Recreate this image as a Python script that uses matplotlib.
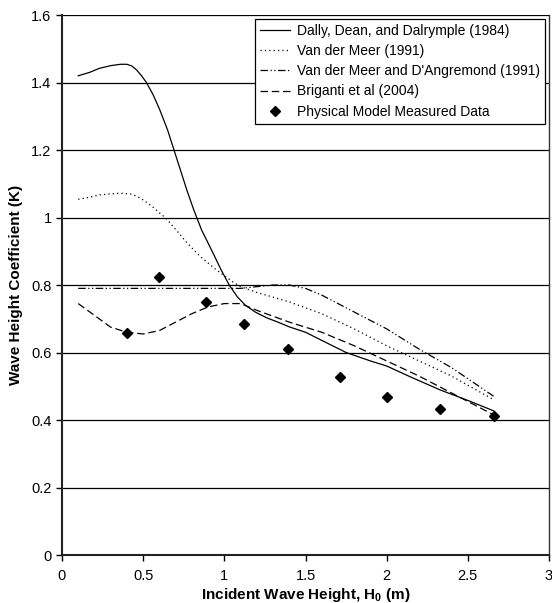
import matplotlib
matplotlib.use("Agg")
import matplotlib.pyplot as plt

plt.rcParams['font.family'] = ['Liberation Sans', 'DejaVu Sans']

# Measured data
meas_x = [0.40, 0.60, 0.89, 1.12, 1.39, 1.71, 2.00, 2.33, 2.66]
meas_k = [0.658, 0.824, 0.750, 0.685, 0.610, 0.528, 0.468, 0.433, 0.412]

# Dally, Dean, and Dalrymple (1984)
dally_x = [0.1, 0.17, 0.23, 0.3, 0.36, 0.4, 0.43, 0.46, 0.49, 0.52, 0.56, 0.6, 0.65, 0.69, 0.73, 0.77, 0.81,
           0.86, 0.93, 0.98, 1.03, 1.08, 1.13, 1.19, 1.26, 1.33, 1.4, 1.5, 1.6, 1.75, 1.9, 2.0, 2.15, 2.33, 2.5, 2.66]
dally_k = [1.42, 1.43, 1.442, 1.45, 1.454, 1.454, 1.449, 1.437, 1.42, 1.40, 1.365, 1.322, 1.26, 1.2, 1.14, 1.08, 1.025,
           0.963, 0.895, 0.845, 0.80, 0.765, 0.74, 0.72, 0.703, 0.69, 0.676, 0.66, 0.636, 0.60, 0.575, 0.56, 0.527, 0.489, 0.458, 0.427]

# Van der Meer (1991)
vdm_x = [0.1, 0.17, 0.23, 0.3, 0.36, 0.42, 0.46, 0.5, 0.55, 0.6, 0.64, 0.7, 0.77, 0.85, 0.95, 1.05, 1.1, 1.2,
         1.4, 1.6, 1.8, 2.0, 2.2, 2.4, 2.66]
vdm_k = [1.054, 1.06, 1.067, 1.07, 1.072, 1.070, 1.063, 1.052, 1.035, 1.014, 0.998, 0.965, 0.925, 0.885, 0.845, 0.81,
         0.795, 0.778, 0.75, 0.715, 0.67, 0.62, 0.575, 0.53, 0.46]

# Van der Meer and D'Angremond (1991)
vdma_x = [0.1, 0.5, 1.0, 1.1, 1.2, 1.3, 1.4, 1.5, 1.6, 1.8, 2.0, 2.2, 2.4, 2.66]
vdma_k = [0.79, 0.79, 0.79, 0.79, 0.795, 0.80, 0.80, 0.79, 0.77, 0.72, 0.67, 0.61, 0.555, 0.47]

# Briganti et al (2004)
brig_x = [0.1, 0.2, 0.3, 0.4, 0.5, 0.6, 0.7, 0.8, 0.9, 1.0, 1.1, 1.2, 1.4, 1.6, 1.8, 2.0, 2.2, 2.4, 2.66]
brig_k = [0.745, 0.71, 0.675, 0.66, 0.655, 0.665, 0.69, 0.715, 0.735, 0.745, 0.745, 0.725, 0.69, 0.66, 0.62, 0.575, 0.53, 0.48, 0.415]

x_ticks = [0, 0.5, 1, 1.5, 2, 2.5, 3]
x_tick_labels = ['0', '0.5', '1', '1.5', '2', '2.5', '3']
y_ticks = [0, 0.2, 0.4, 0.6, 0.8, 1.0, 1.2, 1.4, 1.6]
y_tick_labels = ['0', '0.2', '0.4', '0.6', '0.8', '1', '1.2', '1.4', '1.6']

fig = plt.figure(figsize=(5.52, 6.03), dpi=100)
ax = fig.add_axes([0.1123, 0.0796, 0.8823, 0.8955])

for yv in y_ticks[1:]:
    ax.axhline(yv, color='black', lw=0.9, zorder=1)

ax.plot(dally_x, dally_k, color='black', lw=0.9, ls='-', label='Dally, Dean, and Dalrymple (1984)', zorder=3)
ax.plot(vdm_x, vdm_k, color='black', lw=0.9, ls=(0, (1, 2.5)), label='Van der Meer (1991)', zorder=3)
ax.plot(vdma_x, vdma_k, color='black', lw=0.9, ls=(0, (6, 2, 1, 2, 1, 2)), label="Van der Meer and D'Angremond (1991)", zorder=3)
ax.plot(brig_x, brig_k, color='black', lw=0.9, ls=(0, (6, 3)), label='Briganti et al (2004)', zorder=3)
ax.plot(meas_x, meas_k, ls='none', marker='D', markersize=5.5, color='black', label='Physical Model Measured Data', zorder=4)

ax.set_xlim(0, 3)
ax.set_ylim(0, 1.6)
ax.set_xticks(x_ticks)
ax.set_xticklabels(x_tick_labels)
ax.set_yticks(y_ticks)
ax.set_yticklabels(y_tick_labels)
ax.tick_params(axis='both', direction='out', length=4, width=1, labelsize=10.5, colors='black')
ax.tick_params(axis='x', pad=6)

for s in ['left', 'bottom']:
    ax.spines[s].set_linewidth(1.5)
    ax.spines[s].set_color('#222222')
ax.spines['top'].set_visible(False)
ax.spines['right'].set_linewidth(1.0)
ax.spines['right'].set_color('#333333')

ax.set_xlabel('Incident Wave Height, H$_\\mathregular{0}$ (m)', fontsize=11, fontweight='bold', labelpad=2)
ax.set_ylabel('Wave Height Coefficient (K)', fontsize=11, fontweight='bold', labelpad=6)

leg = ax.legend(loc='upper right', bbox_to_anchor=(0.992, 0.993), fontsize=10,
                frameon=True, fancybox=False, edgecolor='black', framealpha=1,
                handlelength=2.2, handletextpad=0.5, labelspacing=0.45, borderpad=0.35,
                borderaxespad=0)
leg.get_frame().set_linewidth(0.9)

fig.savefig('out.png', dpi=100)
